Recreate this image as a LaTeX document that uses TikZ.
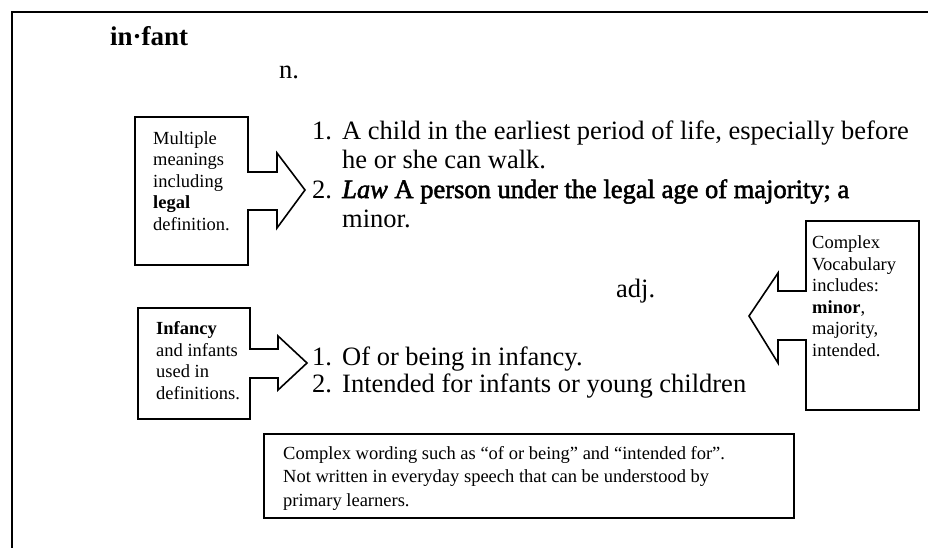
\documentclass[tikz,border=0pt]{standalone}
\usepackage{fontspec}
\setmainfont{Liberation Serif}
\newfontfamily\fbold[FakeBold=2]{Liberation Serif}
\begin{document}
\begin{tikzpicture}[x=1pt,y=-1pt,
  frame/.style={line width=2pt},
  callout/.style={draw, line width=1.6pt, line join=miter},
  boxtxt/.style={anchor=base west, inner sep=0pt, align=left, font=\fontsize{18.5}{21.5}\selectfont},
  bottxt/.style={anchor=base west, inner sep=0pt, align=left, font=\fontsize{18.5}{23.3}\selectfont},
  deftxt/.style={anchor=base west, inner sep=0pt, font=\fontsize{26.5}{29}\selectfont}]
\useasboundingbox (0,0) rectangle (928,548);
% outer frame
\draw[frame] (12,548) -- (12,12) -- (928,12);
% headword
\node[deftxt, font=\fontsize{27}{30}\selectfont\bfseries] (head) at (110,46) {in·fant};
\node[deftxt] (noun) at (279,79) {n.};
\node[deftxt] (adj) at (616,297) {adj.};
% noun definitions
\node[deftxt] (n1num) at (312,140) {1.};
\node[deftxt] (n1a) at (342,140) {A child in the earliest period of life, especially before};
\node[deftxt] (n1b) at (342,169) {he or she can walk.};
\node[deftxt] (n2num) at (312,198) {2.};
\node[deftxt] (n2a) at (342,198) {\fbold\itshape Law\upshape\ A person under the legal age of majority; a};
\node[deftxt] (n2b) at (342,227) {minor.};
% adjective definitions
\node[deftxt] (a1num) at (312,365) {1.};
\node[deftxt] (a1) at (342,365) {Of or being in infancy.};
\node[deftxt] (a2num) at (312,392) {2.};
\node[deftxt] (a2) at (342,392) {Intended for infants or young children};
% callout 1 (base anchor = last line)
\draw[callout] (135,117) -- (248,117) -- (248,172) -- (277,172) -- (277,153) -- (305,190)
  -- (277,228) -- (277,210) -- (248,210) -- (248,265) -- (135,265) -- cycle;
\node[boxtxt] (c1) at (153,230) {Multiple\\meanings\\including\\\textbf{legal}\\definition.};
% callout 2
\draw[callout] (138,308) -- (250,308) -- (250,349) -- (278,349) -- (278,336) -- (307,363)
  -- (278,390) -- (278,378) -- (250,378) -- (250,419) -- (138,419) -- cycle;
\node[boxtxt] (c2) at (156,399) {\textbf{Infancy}\\and infants\\used in\\definitions.};
% callout 3 (right)
\draw[callout] (806,221) -- (919,221) -- (919,410) -- (806,410) -- (806,340) -- (778,340)
  -- (778,363) -- (749,316) -- (778,273) -- (778,291) -- (806,291) -- cycle;
\node[boxtxt] (c3) at (812,356) {Complex\\Vocabulary\\includes:\\\textbf{minor},\\majority,\\intended.};
% bottom box
\draw[callout] (264,434) rectangle (794,518);
\node[bottxt] (c4) at (283,506) {Complex wording such as “of or being” and “intended for”.\\Not written in everyday speech that can be understood by\\primary learners.};
\end{tikzpicture}
\end{document}
